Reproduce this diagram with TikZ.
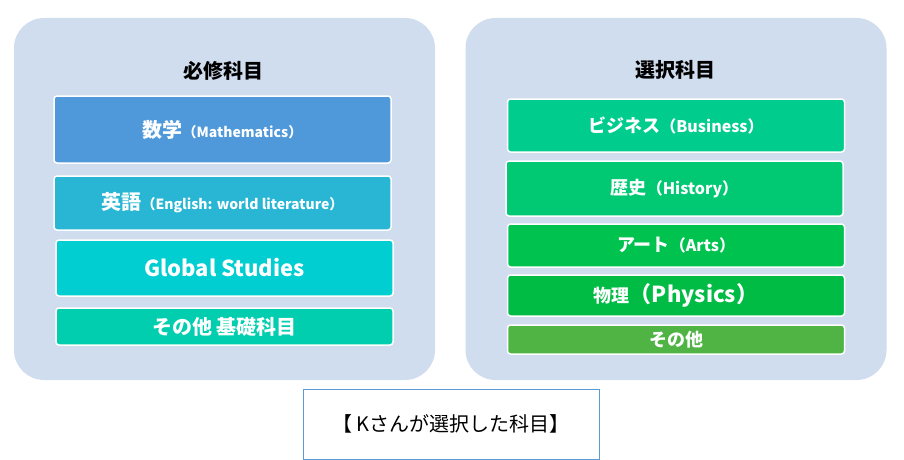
\documentclass[tikz,border=0pt]{standalone}
\usepackage{fontspec}
\setmainfont{Noto Sans CJK JP}
\definecolor{panelbg}{HTML}{D0DDEF}
\definecolor{mathc}{HTML}{4F98D9}
\definecolor{engc}{HTML}{28B6D4}
\definecolor{globc}{HTML}{00CED0}
\definecolor{basec}{HTML}{00CEAE}
\definecolor{busc}{HTML}{00CC8E}
\definecolor{histc}{HTML}{00C873}
\definecolor{artc}{HTML}{00C34F}
\definecolor{physc}{HTML}{00BB44}
\definecolor{otherc}{HTML}{50B444}
\definecolor{frameblue}{HTML}{5B9BD5}
\newcommand{\subjJ}[2]{{\fontsize{#1pt}{#1pt}\selectfont #2}}
\begin{document}
\begin{tikzpicture}[x=1pt,y=-1pt,
  panelbox/.style={fill=panelbg,rounded corners=30pt,minimum width=421pt,minimum height=362pt},
  subj/.style={draw=white,line width=1.5pt,rounded corners=3pt,text=white,font=\bfseries,inner sep=0pt,minimum width=337pt},
  head/.style={font=\bfseries\fontsize{20pt}{20pt}\selectfont,text=black}]
\useasboundingbox (0,0) rectangle (904,460);
% the two groups
\node[panelbox] (req) at (224.5,199) {};
\node[panelbox] (sel) at (676,199) {};
\node[head] (reqtitle) at (223,71) {必修科目};
\node[head] (seltitle) at (675,70) {選択科目};
% required subjects
\node[subj,fill=mathc,minimum height=67pt] (math) at (222.5,129.5)
  {\subjJ{20}{数学}\subjJ{14}{（Mathematics）}};
\node[subj,fill=engc,minimum height=54pt] (eng) at (222.5,203)
  {\subjJ{20}{英語}\subjJ{14}{（English: world literature）}};
\node[subj,fill=globc,minimum height=56pt] (glob) at (224.5,268)
  {\subjJ{22}{Global Studies}};
\node[subj,fill=basec,minimum height=37pt] (base) at (224.5,326.5)
  {\subjJ{20}{その他 基礎科目}};
% elective subjects
\node[subj,fill=busc,minimum height=53pt] (bus) at (676,125.5)
  {\subjJ{18}{ビジネス}\subjJ{16}{（Business）}};
\node[subj,fill=histc,minimum height=55pt] (hist) at (674.5,188.5)
  {\subjJ{18}{歴史}\subjJ{16}{（History）}};
\node[subj,fill=artc,minimum height=43pt] (art) at (676,245.5)
  {\subjJ{18}{アート}\subjJ{16}{（Arts）}};
\node[subj,fill=physc,minimum height=41pt] (phys) at (676,295.5)
  {\subjJ{18}{物理}\subjJ{22}{（Physics）}};
\node[subj,fill=otherc,minimum height=29pt] (other) at (676,339.5)
  {\subjJ{18}{その他}};
% caption
\node[draw=frameblue,line width=1pt,minimum width=296pt,minimum height=70pt,
  font=\fontsize{20pt}{20pt}\selectfont] (caption) at (451,424) {【 Kさんが選択した科目】};
\end{tikzpicture}
\end{document}
